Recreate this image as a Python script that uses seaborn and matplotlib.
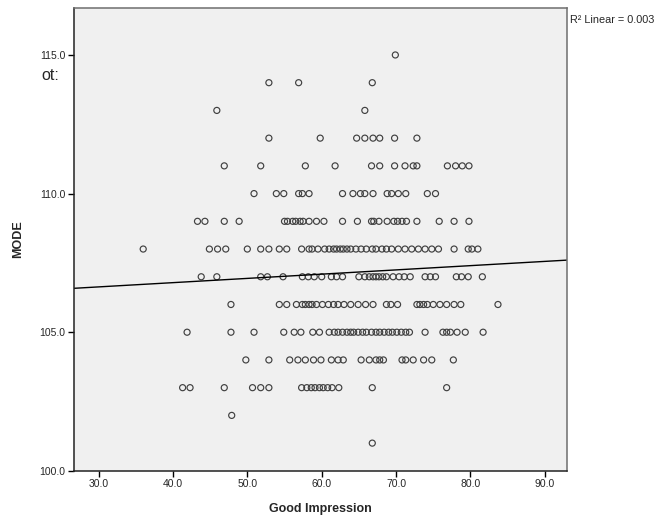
import matplotlib
matplotlib.use("Agg")
import matplotlib.pyplot as plt
import numpy as np
import pandas as pd
import seaborn as sns

# Good Impression scores, grouped by MODE value
mode_115 = [69.9]
mode_114 = [52.9, 56.9, 66.8]
mode_113 = [45.9, 65.8]
mode_112 = [52.9, 59.8, 64.7, 65.8, 66.9, 67.8, 69.8, 72.8]
mode_111 = [46.9, 51.8, 57.8, 61.8, 66.7, 67.8, 69.8, 71.2, 72.3, 72.8, 76.9, 78.0, 78.9, 79.8]
mode_110 = [50.9, 53.9, 54.9, 56.9, 57.4, 58.3, 62.8, 64.2, 65.2, 65.8, 66.9, 68.8, 69.4,
            70.3, 71.3, 74.2, 75.3]
mode_109 = [43.3, 44.3, 46.9, 48.9, 55.0, 55.4, 56.1, 56.5, 57.1, 57.5, 58.3, 59.3, 60.3,
            62.8, 64.8, 66.7, 67.0, 67.7, 68.8, 69.7, 70.2, 70.8, 71.4, 72.8, 75.8, 77.8, 79.8]
mode_108 = [36.0, 44.9, 46.0, 47.1, 50.0, 51.8, 52.9, 54.3, 55.3, 57.3, 58.3, 58.7, 59.5,
            60.4, 61.0, 61.6, 62.0, 62.5, 62.9, 63.4, 63.9, 64.6, 65.3, 66.0, 66.8, 67.3,
            68.1, 68.7, 69.4, 70.3, 71.2, 72.1, 73.0, 73.9, 74.8, 75.7, 77.8, 79.7, 80.2, 81.0]
mode_107 = [43.8, 45.9, 51.8, 52.7, 54.8, 57.4, 58.2, 59.0, 60.0, 61.3, 62.0, 62.8, 65.0,
            65.8, 66.4, 66.9, 67.3, 67.7, 68.2, 68.7, 69.6, 70.4, 71.1, 71.9, 73.9, 74.6,
            75.3, 78.1, 78.8, 79.7, 81.6]
mode_106 = [47.8, 54.3, 55.3, 56.6, 57.4, 57.8, 58.3, 58.7, 59.3, 60.1, 60.9, 61.6, 62.2,
            63.0, 63.9, 64.9, 65.9, 66.9, 68.7, 69.3, 70.2, 72.8, 73.2, 73.7, 74.2, 75.0,
            75.9, 76.8, 77.8, 78.7, 83.7]
mode_105 = [41.9, 47.8, 50.9, 54.9, 56.3, 57.2, 58.8, 59.7, 61.0, 61.7, 62.2, 62.8, 63.4,
            63.9, 64.3, 64.9, 65.5, 66.0, 66.7, 67.3, 67.8, 68.4, 69.0, 69.5, 70.1, 70.7,
            71.3, 71.8, 73.9, 76.3, 76.8, 77.3, 78.2, 79.3, 81.7]
mode_104 = [49.8, 52.9, 55.7, 56.8, 57.8, 58.9, 59.9, 61.3, 62.2, 62.9, 65.3, 66.4, 67.3,
            67.8, 68.3, 70.8, 71.3, 72.3, 73.7, 74.8, 77.7]
mode_103 = [41.3, 42.3, 46.9, 50.7, 51.8, 52.9, 57.3, 58.0, 58.6, 59.1, 59.7, 60.2, 60.8,
            61.4, 62.3, 66.8, 76.8]
mode_102 = [47.9]
mode_101 = [66.8]

x_ticks = [30, 40, 50, 60, 70, 80, 90]
y_ticks = [100, 105, 110, 115]
r2_label = "R\u00b2 Linear = 0.003"

groups = {115: mode_115, 114: mode_114, 113: mode_113, 112: mode_112, 111: mode_111,
          110: mode_110, 109: mode_109, 108: mode_108, 107: mode_107, 106: mode_106,
          105: mode_105, 104: mode_104, 103: mode_103, 102: mode_102, 101: mode_101}
df = pd.DataFrame([(gi, m) for m, xs in groups.items() for gi in xs],
                  columns=["Good Impression", "MODE"])

sns.set_theme(style="white")
plt.rcParams["font.family"] = ["Liberation Sans", "DejaVu Sans"]

fig = plt.figure(figsize=(6.61, 5.22), dpi=100)
ax = fig.add_axes([0.112, 0.098, 0.746, 0.887])
ax.set_facecolor("#f0f0f0")
ax.set_xlim(26.7, 93.0)
ax.set_ylim(100, 116.7)

sns.scatterplot(data=df, x="Good Impression", y="MODE", ax=ax, marker="o",
                facecolor="none", edgecolor="#404040", s=19, linewidth=0.85)
sns.regplot(data=df, x="Good Impression", y="MODE", ax=ax, scatter=False, ci=None,
            truncate=False, line_kws={"color": "black", "linewidth": 1.0})

ax.set_xticks(x_ticks)
ax.set_xticklabels([f"{v:.1f}" for v in x_ticks], fontsize=7.5)
ax.set_yticks(y_ticks)
ax.set_yticklabels([f"{v:.1f}" for v in y_ticks], fontsize=7.5)
ax.tick_params(axis="both", direction="out", length=4, width=1, color="black",
               bottom=True, left=True, pad=2)
for side in ["top", "right"]:
    ax.spines[side].set_color("#6e6e6e")
    ax.spines[side].set_linewidth(1.1)
for side in ["left", "bottom"]:
    ax.spines[side].set_color("#222222")
    ax.spines[side].set_linewidth(1.1)
ax.set_xlabel("Good Impression", fontsize=9, fontweight="bold", labelpad=10)
ax.set_ylabel("MODE", fontsize=9, fontweight="bold", labelpad=11)

fig.text(0.862, 0.962, r2_label, fontsize=7.8, va="center", ha="left")
fig.text(0.063, 0.856, "ot:", fontsize=11.5, va="center", ha="left")

fig.savefig("out.png", dpi=100)
